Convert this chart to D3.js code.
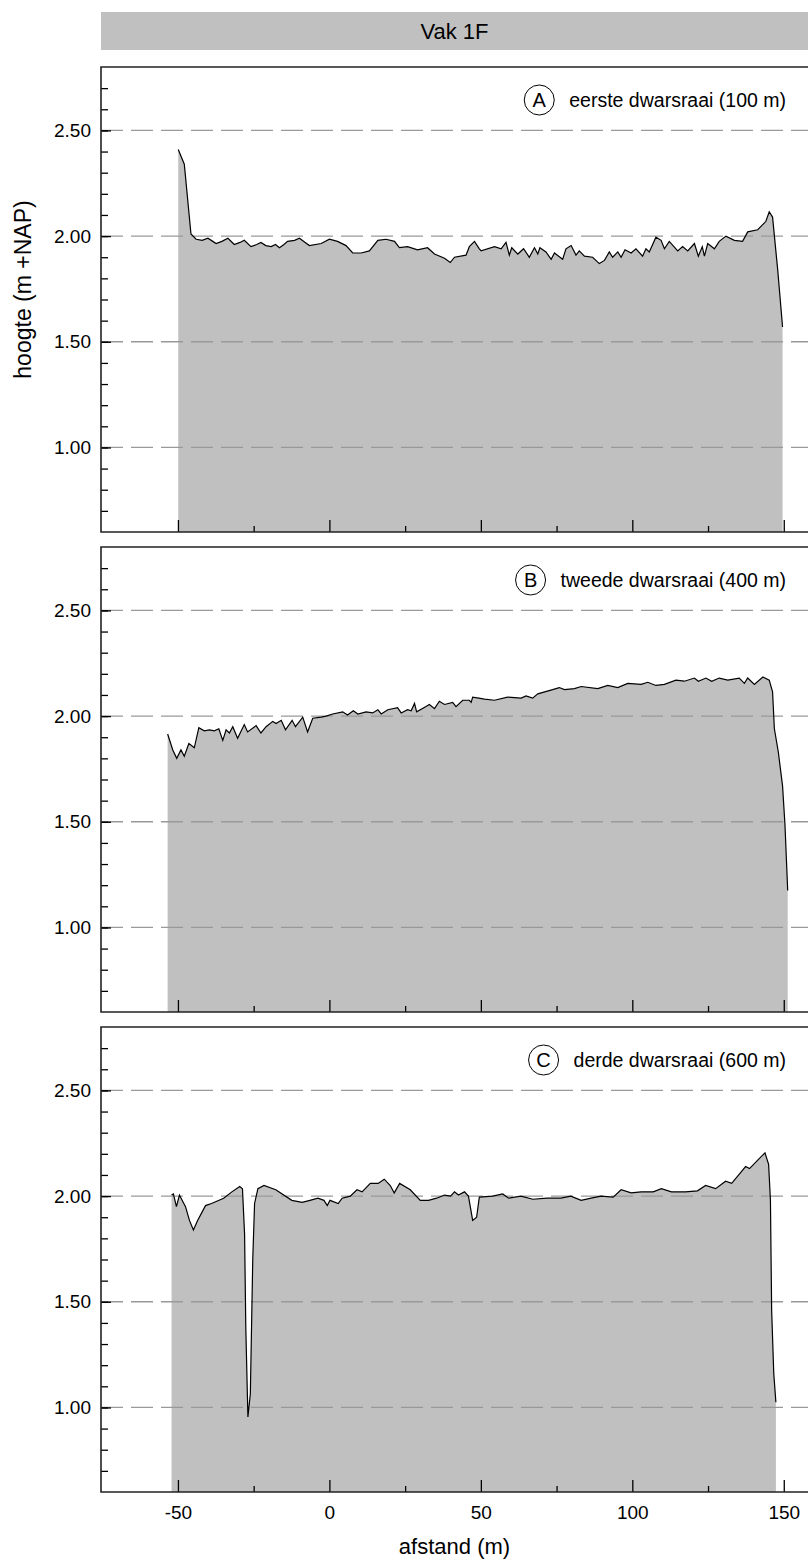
<!DOCTYPE html>
<html>
<head>
<meta charset="utf-8">
<script src="https://cdn.jsdelivr.net/npm/d3@7"></script>
<style>
  body { margin: 0; background: #fff; }
  svg text { font-family: "Liberation Sans", Arial, sans-serif; fill: #000; }
</style>
</head>
<body>
<svg id="chart" width="808" height="1564"></svg>
<script>
// profile A: eerste dwarsraai (100 m)
var distA = [-49.9, -47.9, -45.7, -44.0, -42.0, -40.1, -38.5, -37.4, -35.5, -33.5, -31.4, -29.5, -28.1, -25.9, -24.0, -22.6, -21.0, -19.2, -17.8, -16.5, -15.0, -13.8, -11.5, -9.9, -8.0, -6.6, -2.7, 0, 2.7, 5.5, 7.7, 10.5, 13.2, 16.0, 18.7, 21.5, 23.1, 25.8, 29.1, 32.4, 34.7, 38.0, 39.9, 41.3, 45.1, 46.2, 47.9, 49.5, 50.1, 54.5, 56.7, 58.3, 59.4, 60.2, 62.2, 64.1, 66.0, 67.7, 68.8, 69.5, 71.5, 73.2, 74.3, 77.0, 78.1, 79.8, 81.4, 82.5, 84.2, 86.9, 89.1, 90.8, 92.4, 93.5, 95.2, 96.3, 97.6, 99.6, 101.2, 103.4, 104.5, 105.6, 107.8, 109.5, 110.6, 112.2, 115.0, 116.6, 118.3, 120.5, 121.8, 123.1, 123.8, 124.9, 127.1, 128.7, 130.9, 133.7, 136.4, 138.1, 141.4, 144.1, 145.2, 146.3, 148.0, 149.6];
var hoogteA = [2.41, 2.34, 2.01, 1.985, 1.98, 1.99, 1.975, 1.965, 1.975, 1.99, 1.96, 1.97, 1.98, 1.95, 1.96, 1.97, 1.955, 1.95, 1.96, 1.945, 1.96, 1.975, 1.98, 1.99, 1.97, 1.955, 1.965, 1.985, 1.975, 1.955, 1.92, 1.92, 1.93, 1.98, 1.985, 1.975, 1.945, 1.95, 1.935, 1.945, 1.915, 1.895, 1.875, 1.90, 1.91, 1.95, 1.975, 1.94, 1.93, 1.95, 1.94, 1.97, 1.91, 1.945, 1.915, 1.94, 1.90, 1.945, 1.915, 1.945, 1.925, 1.89, 1.92, 1.89, 1.94, 1.955, 1.91, 1.93, 1.905, 1.90, 1.87, 1.885, 1.925, 1.90, 1.925, 1.90, 1.935, 1.92, 1.94, 1.905, 1.94, 1.925, 1.995, 1.98, 1.94, 1.975, 1.93, 1.95, 1.93, 1.965, 1.905, 1.95, 1.905, 1.965, 1.94, 1.975, 2.00, 1.98, 1.975, 2.02, 2.03, 2.07, 2.115, 2.09, 1.84, 1.57];

// profile B: tweede dwarsraai (400 m)
var distB = [-53.4, -51.7, -50.4, -49.0, -47.9, -46.4, -44.6, -43.1, -41.3, -39.6, -38.0, -36.5, -35.2, -34.1, -33.0, -31.9, -30.3, -28.1, -27.0, -24.2, -22.6, -20.9, -18.7, -17.6, -15.9, -14.5, -12.3, -11.2, -8.8, -7.2, -5.5, -2.7, -1.1, 1.1, 4.4, 6.0, 7.9, 9.4, 12.1, 14.3, 16.0, 17.1, 19.3, 22.5, 23.7, 25.8, 27.0, 28.1, 28.8, 31.9, 33.0, 34.7, 36.3, 38.0, 40.7, 41.8, 44.0, 46.2, 46.8, 47.3, 49.3, 51.2, 54.5, 58.8, 63.3, 64.9, 67.1, 68.8, 73.7, 75.9, 77.6, 80.9, 83.1, 88.6, 91.9, 95.2, 98.5, 102.9, 105.1, 107.8, 110.6, 114.4, 117.2, 120.5, 121.8, 124.3, 126.2, 128.7, 131.5, 135.3, 137.0, 138.1, 140.3, 143.1, 145.2, 146.3, 146.9, 148.2, 149.6, 150.4, 151.3];
var hoogteB = [1.915, 1.84, 1.80, 1.84, 1.81, 1.87, 1.85, 1.945, 1.93, 1.935, 1.93, 1.94, 1.885, 1.935, 1.92, 1.95, 1.895, 1.96, 1.925, 1.955, 1.92, 1.95, 1.975, 1.965, 1.98, 1.935, 1.98, 1.95, 1.995, 1.925, 1.99, 1.995, 2.00, 2.01, 2.02, 2.005, 2.025, 2.01, 2.02, 2.015, 2.03, 2.01, 2.03, 2.04, 2.015, 2.03, 2.025, 2.06, 2.02, 2.045, 2.055, 2.035, 2.07, 2.055, 2.065, 2.045, 2.075, 2.075, 2.065, 2.09, 2.085, 2.08, 2.075, 2.09, 2.085, 2.095, 2.085, 2.105, 2.125, 2.135, 2.125, 2.13, 2.14, 2.13, 2.145, 2.135, 2.155, 2.15, 2.16, 2.145, 2.15, 2.17, 2.165, 2.18, 2.165, 2.18, 2.165, 2.18, 2.17, 2.18, 2.155, 2.18, 2.15, 2.185, 2.17, 2.115, 1.94, 1.83, 1.67, 1.485, 1.175];

// profile C: derde dwarsraai (600 m)
var distC = [-52.1, -51.5, -50.5, -49.5, -47.5, -46.2, -44.9, -43.5, -40.9, -38.9, -34.9, -32.2, -29.6, -28.7, -28.0, -27.6, -26.9, -26.1, -25.3, -24.7, -23.6, -21.6, -17.7, -12.4, -9.0, -6.4, -3.8, -1.8, -0.7, 0.2, 2.9, 4.2, 6.9, 9.1, 10.8, 13.5, 16.1, 18.1, 20.1, 21.4, 23.2, 26.7, 30.0, 32.7, 35.4, 38.0, 40.0, 41.3, 42.6, 44.6, 45.9, 47.3, 48.6, 49.5, 53.9, 57.2, 59.2, 63.2, 67.2, 71.8, 76.4, 79.7, 83.1, 86.4, 89.7, 93.7, 96.3, 99.6, 102.9, 106.9, 109.6, 112.9, 117.5, 121.5, 124.2, 127.5, 130.8, 132.8, 135.4, 137.4, 138.7, 141.4, 143.8, 145.0, 145.6, 146.0, 146.7, 147.4];
var hoogteC = [2.005, 2.01, 1.95, 2.005, 1.95, 1.885, 1.84, 1.885, 1.955, 1.965, 1.99, 2.02, 2.045, 2.035, 1.82, 1.38, 0.955, 1.065, 1.70, 1.965, 2.035, 2.05, 2.03, 1.98, 1.97, 1.98, 1.99, 1.98, 1.955, 1.98, 1.965, 1.99, 2.00, 2.03, 2.02, 2.06, 2.06, 2.08, 2.05, 2.015, 2.06, 2.03, 1.98, 1.98, 1.99, 2.005, 2.00, 2.02, 2.005, 2.02, 2.00, 1.885, 1.90, 1.995, 2.00, 2.01, 1.99, 2.00, 1.985, 1.99, 1.99, 2.00, 1.98, 1.99, 2.00, 1.995, 2.03, 2.015, 2.02, 2.02, 2.035, 2.02, 2.02, 2.025, 2.05, 2.035, 2.07, 2.06, 2.105, 2.14, 2.13, 2.17, 2.205, 2.15, 1.98, 1.46, 1.16, 1.025];

var panelLetters = ["A", "B", "C"];
var panelTitles = ["eerste dwarsraai (100 m)", "tweede dwarsraai (400 m)", "derde dwarsraai (600 m)"];
var yMajor = [1.00, 1.50, 2.00, 2.50];
var xMajor = [-50, 0, 50, 100, 150];
var xMinor = [-25, 25, 75, 125];

var profiles = [
    {dist: distA, hoogte: hoogteA},
    {dist: distB, hoogte: hoogteB},
    {dist: distC, hoogte: hoogteC}
];

var left = 101,
    right = 808,
    panelHeight = 465,
    panelStep = 480,
    firstTop = 67,
    fillColor = "#c0c0c0",
    gridColor = "#999",
    fontFamily = "Liberation Sans, Arial, sans-serif";

var svg = d3.select("#chart");

var x = d3.scaleLinear().domain([-75.4, 158]).range([left, right]);

// header strip
svg.append("rect")
    .attr("x", left).attr("y", 12)
    .attr("width", right - left).attr("height", 38)
    .attr("fill", fillColor);
svg.append("text")
    .attr("x", (left + right) / 2).attr("y", 39)
    .attr("text-anchor", "middle")
    .attr("font-size", 22)
    .text("Vak 1F");

profiles.forEach(function(p, i) {
    var top = firstTop + i * panelStep,
        bottom = top + panelHeight;

    var y = d3.scaleLinear().domain([0.6, 2.8]).range([bottom, top]);
    var pts = p.dist.map(function(d, j) { return [d, p.hoogte[j]]; });

    var g = svg.append("g");

    g.append("path")
        .datum(pts)
        .attr("fill", fillColor)
        .attr("d", d3.area()
            .x(function(d) { return x(d[0]); })
            .y0(bottom)
            .y1(function(d) { return y(d[1]); }));

    // dashed grid
    g.selectAll(".grid").data(yMajor).enter()
        .append("line")
            .attr("x1", left).attr("x2", right)
            .attr("y1", function(d) { return y(d); })
            .attr("y2", function(d) { return y(d); })
            .attr("stroke", gridColor)
            .attr("stroke-width", 1.3)
            .attr("stroke-dasharray", "22,8");

    g.append("path")
        .datum(pts)
        .attr("fill", "none")
        .attr("stroke", "#000")
        .attr("stroke-width", 1.2)
        .attr("d", d3.line()
            .x(function(d) { return x(d[0]); })
            .y(function(d) { return y(d[1]); }));

    // y ticks
    g.append("g")
        .attr("transform", "translate(" + left + ",0)")
        .call(d3.axisLeft(y).tickValues(d3.range(7, 28).map(function(v) { return v / 10; }))
            .tickSize(-7).tickFormat(""))
        .call(function(a) { a.select(".domain").remove(); });
    g.append("g")
        .attr("transform", "translate(" + left + ",0)")
        .call(d3.axisLeft(y).tickValues(yMajor).tickSize(-10).tickPadding(10)
            .tickFormat(d3.format(".2f")))
        .call(function(a) {
            a.select(".domain").remove();
            a.selectAll("text").attr("font-size", 19).attr("font-family", fontFamily);
        });

    // x ticks
    g.append("g")
        .attr("transform", "translate(0," + bottom + ")")
        .call(d3.axisBottom(x).tickValues(xMinor).tickSize(-6).tickFormat(""))
        .call(function(a) { a.select(".domain").remove(); });
    g.append("g")
        .attr("transform", "translate(0," + bottom + ")")
        .call(d3.axisBottom(x).tickValues(xMajor).tickSize(-12).tickPadding(14)
            .tickFormat(function(d) { return i === 2 ? String(d) : ""; }))
        .call(function(a) {
            a.select(".domain").remove();
            a.selectAll("text").attr("font-size", 19).attr("font-family", fontFamily);
        });

    g.selectAll(".tick line").attr("stroke", "#000").attr("stroke-width", 1.3);

    // frame
    g.append("path")
        .attr("d", "M" + (right + 5) + "," + top + "H" + left + "V" + bottom + "H" + (right + 5))
        .attr("fill", "none")
        .attr("stroke", "#222")
        .attr("stroke-width", 1.6);

    // panel label
    var label = g.append("text")
        .attr("x", 786).attr("y", top + 40)
        .attr("text-anchor", "end")
        .attr("font-size", 19.5)
        .text(panelTitles[i]);
    var textStart = 786 - label.node().getComputedTextLength();
    g.append("circle")
        .attr("cx", textStart - 30).attr("cy", top + 33).attr("r", 15)
        .attr("fill", "#fff").attr("stroke", "#000").attr("stroke-width", 1);
    g.append("text")
        .attr("x", textStart - 30).attr("y", top + 40)
        .attr("text-anchor", "middle")
        .attr("font-size", 20)
        .text(panelLetters[i]);
});

svg.append("text")
    .attr("transform", "translate(31," + (firstTop + panelHeight / 2 - 10) + ") rotate(-90)")
    .attr("text-anchor", "middle")
    .attr("font-size", 23)
    .text("hoogte (m +NAP)");

svg.append("text")
    .attr("x", (left + right) / 2).attr("y", 1554)
    .attr("text-anchor", "middle")
    .attr("font-size", 22)
    .text("afstand (m)");
</script>
</body>
</html>
